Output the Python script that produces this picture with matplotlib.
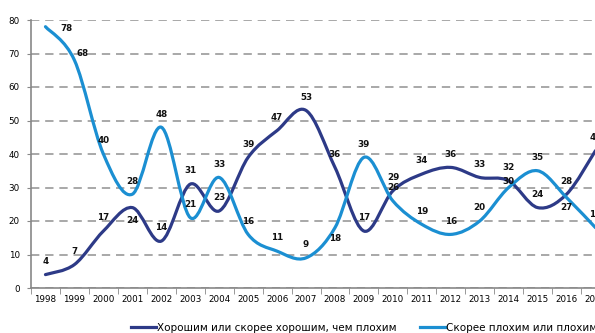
import numpy as np
import matplotlib
matplotlib.use("Agg")
import matplotlib.pyplot as plt
from matplotlib.path import Path
from matplotlib.patches import PathPatch

years = [str(y) for y in range(1998, 2018)]
good = [4, 7, 17, 24, 14, 31, 23, 39, 47, 53, 36, 17, 29, 34, 36, 33, 32, 24, 28, 41]
bad = [78, 68, 40, 28, 48, 21, 33, 16, 11, 9, 18, 39, 26, 19, 16, 20, 30, 35, 27, 18]
good_name = "Хорошим или скорее хорошим, чем плохим"
bad_name = "Скорее плохим или плохим"

navy = "#2d3a87"
light = "#1b8fd2"

# labels that sit below or beside the point instead of above it
label_shift = {
    ("good", 3): (0, -9),
    ("bad", 10): (0, -8),
    ("bad", 18): (0, -7),
    ("bad", 0): (15, -1),
    ("bad", 1): (6, 5),
    ("bad", 13): (0, 9),
    ("bad", 16): (0, 4),
}


def smooth_path(x, y):
    # Excel-like smoothed line: cubic bezier with catmull-rom control points
    p = np.column_stack([x, y]).astype(float)
    ext = np.vstack([p[0], p, p[-1]])
    verts = [p[0]]
    codes = [Path.MOVETO]
    for i in range(len(p) - 1):
        p0, p1, p2, p3 = ext[i], ext[i + 1], ext[i + 2], ext[i + 3]
        verts += [p1 + (p2 - p0) / 6, p2 - (p3 - p1) / 6, p2]
        codes += [Path.CURVE4] * 3
    return Path(verts, codes)


fig = plt.figure(figsize=(5.95, 3.33), dpi=100)
ax = fig.add_axes([31 / 595, 45 / 333, 579 / 595, 268 / 333])

x = np.arange(len(years))
for key, vals, col in [("good", good, navy), ("bad", bad, light)]:
    ax.add_patch(PathPatch(smooth_path(x, vals), fill=False, edgecolor=col,
                           lw=2.3, capstyle="round", joinstyle="round", zorder=3))
    for i, v in enumerate(vals):
        dx, dy = label_shift.get((key, i), (0, 9.5))
        ax.annotate(str(v), (i, v), xytext=(dx, dy), textcoords="offset points",
                    ha="center", va="center", fontsize=6.3, color="#111111",
                    fontweight="bold", zorder=4)

ax.set_xlim(-0.5, len(years) - 0.5)
ax.set_ylim(0, 80)
ax.set_yticks(range(0, 81, 10))
ax.set_xticks(x)
ax.set_xticklabels(years, fontsize=6.3)
ax.set_xticks(np.arange(-0.5, len(years), 1), minor=True)
ax.tick_params(axis="x", which="major", length=0, pad=5)
ax.tick_params(axis="x", which="minor", length=4, color="#888888")
ax.tick_params(axis="y", length=3, color="#888888", labelsize=6.3, pad=5)
ax.grid(axis="y", linestyle=(0, (5, 3.5)), color="#9a9a9a", lw=1.2)
ax.set_axisbelow(True)
for s in ["top", "right"]:
    ax.spines[s].set_visible(False)
for s in ["left", "bottom"]:
    ax.spines[s].set_color("#888888")
    ax.spines[s].set_linewidth(1.2)

h1, = ax.plot([], [], color=navy, lw=2.3, label=good_name)
h2, = ax.plot([], [], color=light, lw=2.3, label=bad_name)
fig.legend(handles=[h1, h2], loc="center", bbox_to_anchor=(0.612, 0.015),
           ncol=2, frameon=False, fontsize=7.5, handlelength=2.4,
           handletextpad=0.1, columnspacing=2.2)

fig.savefig("out.png", dpi=100)
